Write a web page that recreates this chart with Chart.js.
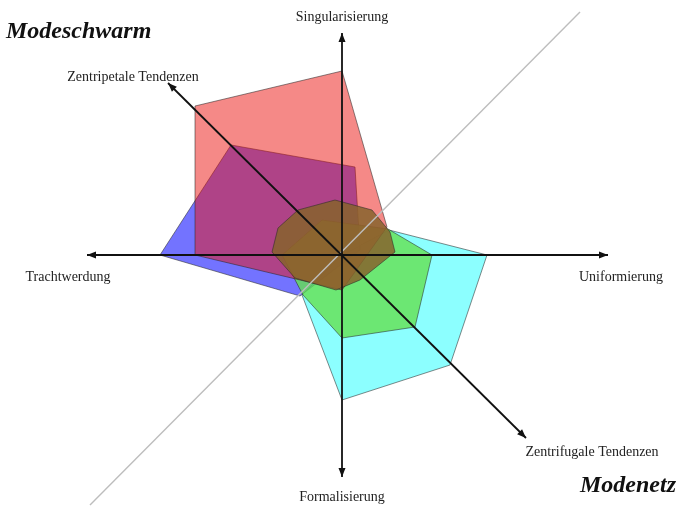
<!DOCTYPE html>
<html lang="de">
<head>
<meta charset="utf-8">
<title>Modeschwarm und Modenetz</title>
<script src="https://cdn.jsdelivr.net/npm/chart.js@4.4.1/dist/chart.umd.min.js"></script>
<style>
  html, body { margin: 0; padding: 0; background: #fff; }
  #wrap { width: 679px; height: 507px; position: relative; }
</style>
</head>
<body>
<div id="wrap"><canvas id="netz"></canvas></div>
<script>
// Koordinaten im Datenraum, Achsenkreuz liegt bei 0/0
const xBereich = [-342, 337];
const yBereich = [-252, 255];

// Achsenpfeile (beide Enden mit Spitze)
const achsenLinien = [
  [[0, -222], [0, 222]],
  [[266, 0], [-255, 0]],
  [[184, -183], [-174, 172]]
];
const achsenNamen = ["Singularisierung", "Uniformierung", "Zentrifugale Tendenzen",
  "Formalisierung", "Trachtwerdung", "Zentripetale Tendenzen"];
const achsenNamenPos = [[0, 238], [279, -22], [250, -197], [0, -242], [-274, -22], [-209, 178]];

const titel = ["Modeschwarm", "Modenetz"];
const titelPos = [[-336, 217], [238, -237]];

// graue Diagonale
const diagonale = [[-252, -250], [238, 243]];

// Flächen (Eckpunkte)
const rot = [[0, 184], [45, 28], [0, -35], [-147, 0], [-147, 149]];
const blau = [[-182, 0], [-111, 110], [13, 88], [18, 5], [-42, -41]];
const gruen = [[46, 26], [90, 0], [73, -72], [0, -83], [-39, -40], [-60, 0], [-20, 35]];
const tuerkis = [[47, 25], [145, 0], [108, -110], [0, -145], [-40, -40], [0, 0]];
const braun = [[-44, 45], [-7, 55], [30, 45], [48, 23], [53, 3], [18, -25], [-6, -35], [-47, -23], [-70, 3], [-64, 27]];

function punkte(arr) {
  return arr.map(p => ({ x: p[0], y: p[1] }));
}

function flaeche(label, ecken, farbe, order) {
  return {
    label: label,
    data: punkte(ecken.concat([ecken[0]])),
    backgroundColor: farbe,
    borderColor: "rgba(40,40,40,0.55)",
    borderWidth: 1,
    fill: "shape",
    pointRadius: 0,
    tension: 0,
    order: order
  };
}

function spitze(ctx, xs, ys, xf, yf) {
  const w = Math.atan2(ys - yf, xs - xf);
  const l = 9, b = 3.5;
  ctx.beginPath();
  ctx.moveTo(xs, ys);
  ctx.lineTo(xs - l * Math.cos(w) + b * Math.sin(w), ys - l * Math.sin(w) - b * Math.cos(w));
  ctx.lineTo(xs - l * Math.cos(w) - b * Math.sin(w), ys - l * Math.sin(w) + b * Math.cos(w));
  ctx.closePath();
  ctx.fill();
}

const pfeilPlugin = {
  id: "pfeile",
  afterDatasetsDraw(chart) {
    const ctx = chart.ctx;
    const sx = chart.scales.x, sy = chart.scales.y;
    ctx.save();
    ctx.strokeStyle = "#111";
    ctx.fillStyle = "#111";
    ctx.lineWidth = 1.8;
    achsenLinien.forEach(function (l) {
      const x1 = sx.getPixelForValue(l[0][0]), y1 = sy.getPixelForValue(l[0][1]);
      const x2 = sx.getPixelForValue(l[1][0]), y2 = sy.getPixelForValue(l[1][1]);
      ctx.beginPath();
      ctx.moveTo(x1, y1);
      ctx.lineTo(x2, y2);
      ctx.stroke();
      spitze(ctx, x1, y1, x2, y2);
      spitze(ctx, x2, y2, x1, y1);
    });

    ctx.fillStyle = "#222";
    ctx.font = '14px "Liberation Serif", "DejaVu Serif", serif';
    ctx.textAlign = "center";
    ctx.textBaseline = "middle";
    achsenNamen.forEach(function (n, i) {
      ctx.fillText(n, sx.getPixelForValue(achsenNamenPos[i][0]), sy.getPixelForValue(achsenNamenPos[i][1]));
    });

    ctx.fillStyle = "#111";
    ctx.font = 'italic bold 24px "Liberation Serif", "DejaVu Serif", serif';
    ctx.textAlign = "left";
    ctx.textBaseline = "alphabetic";
    titel.forEach(function (t, i) {
      ctx.fillText(t, sx.getPixelForValue(titelPos[i][0]), sy.getPixelForValue(titelPos[i][1]));
    });
    ctx.restore();
  }
};

const chart = new Chart(document.getElementById("netz"), {
  type: "line",
  data: {
    datasets: [
      {
        label: "Diagonale",
        data: punkte(diagonale),
        borderColor: "#bdbdbd",
        borderWidth: 1.4,
        pointRadius: 0,
        fill: false,
        order: 0
      },
      flaeche("braun", braun, "rgba(135,100,45,0.85)", 1),
      flaeche("rot", rot, "rgba(235,20,15,0.5)", 2),
      flaeche("grün", gruen, "rgba(100,225,80,0.8)", 3),
      flaeche("blau", blau, "rgba(0,0,255,0.55)", 4),
      flaeche("türkis", tuerkis, "rgba(0,255,255,0.45)", 5)
    ]
  },
  options: {
    responsive: true,
    maintainAspectRatio: false,
    animation: false,
    events: [],
    layout: { padding: 0 },
    plugins: {
      legend: { display: false },
      tooltip: { enabled: false }
    },
    scales: {
      x: { type: "linear", min: xBereich[0], max: xBereich[1], display: false },
      y: { type: "linear", min: yBereich[0], max: yBereich[1], display: false }
    }
  },
  plugins: [pfeilPlugin]
});
</script>
</body>
</html>
